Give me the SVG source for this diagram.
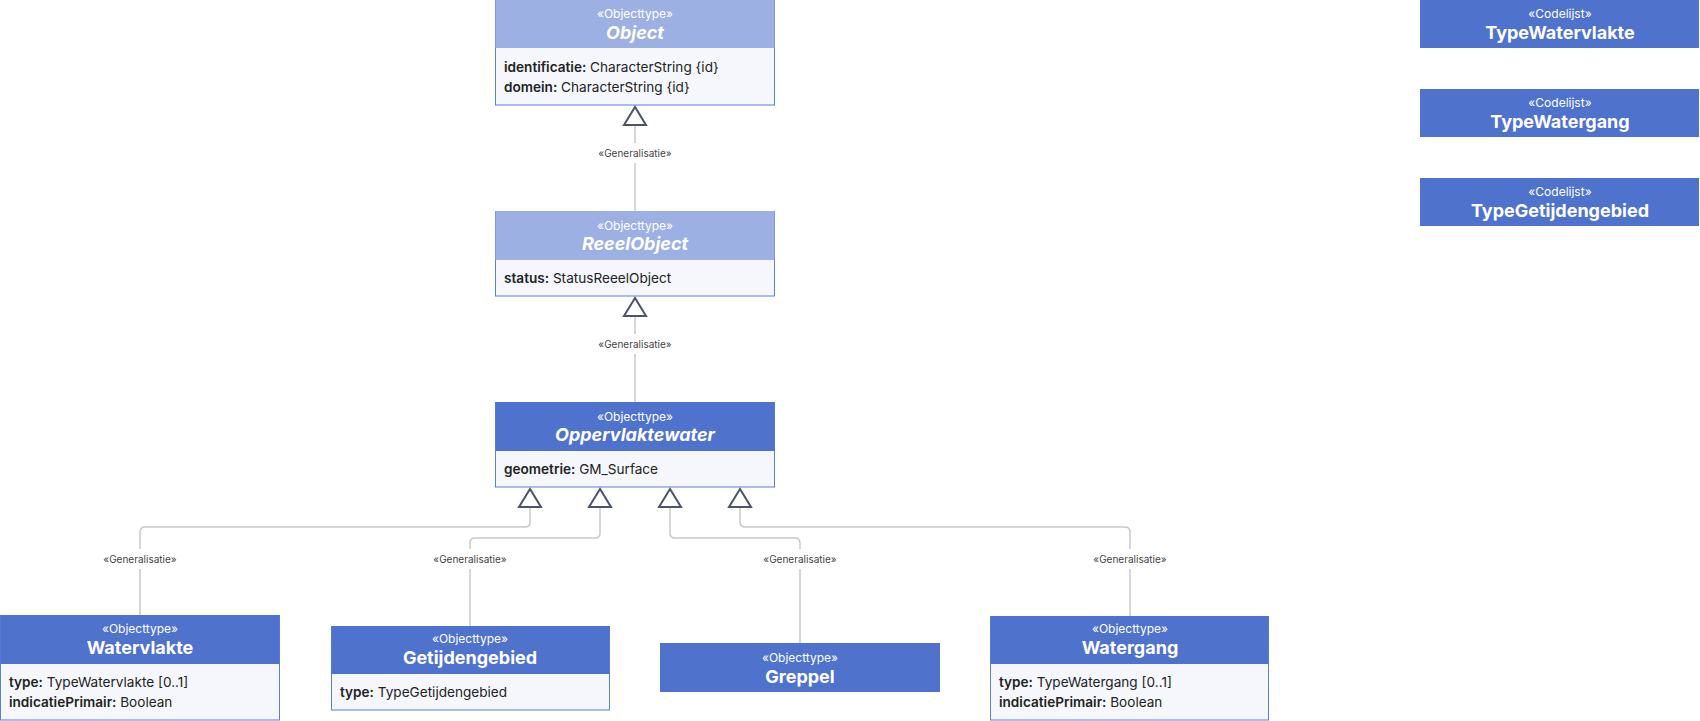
<svg xmlns="http://www.w3.org/2000/svg" width="1700" height="721" viewBox="0 0 1700 721">
<style>
text{font-family:Inter,"Noto Sans","Liberation Sans",sans-serif}
.hdrL{fill:#9db0e3}
.hdrD{fill:#4f72cc}
.body{fill:#f5f7fc;stroke:#5c7fd8;stroke-width:1}
.st{fill:#ffffff;font-size:12px;text-anchor:middle;dominant-baseline:central}
.nm{fill:#ffffff;font-size:18px;font-weight:700;text-anchor:middle;dominant-baseline:central}
.it{font-style:italic}
.at{fill:#222222;font-size:13.6px;dominant-baseline:central}
.at tspan.b{font-weight:600}
.ln{fill:none;stroke:#c9c9c9;stroke-width:1.5}
.tri{fill:#ffffff;stroke:#4a5568;stroke-width:2;stroke-linejoin:miter}
.lbl{fill:#444444;font-size:10px;text-anchor:middle;dominant-baseline:central}
.lblbg{fill:#ffffff}
</style>

<g id="connectors">
  <!-- Object <- ReeelObject -->
  <line class="ln" x1="635" y1="125" x2="635" y2="211"/>
  <rect class="lblbg" x="595" y="143" width="80" height="20"/>
  <text class="lbl" x="635" y="153">«Generalisatie»</text>
  <polygon class="tri" points="635,107 624,125 646,125"/>

  <!-- ReeelObject <- Oppervlaktewater -->
  <line class="ln" x1="635" y1="316" x2="635" y2="402"/>
  <rect class="lblbg" x="595" y="334" width="80" height="20"/>
  <text class="lbl" x="635" y="344">«Generalisatie»</text>
  <polygon class="tri" points="635,298 624,316 646,316"/>

  <!-- Watervlakte -->
  <path class="ln" d="M530,507 V522 Q530,527 525,527 H145 Q140,527 140,532 V615"/>
  <rect class="lblbg" x="100" y="549" width="80" height="20"/>
  <text class="lbl" x="140" y="559">«Generalisatie»</text>
  <polygon class="tri" points="530,489 519,507 541,507"/>

  <!-- Getijdengebied -->
  <path class="ln" d="M600,507 V533 Q600,538 595,538 H475 Q470,538 470,543 V626"/>
  <rect class="lblbg" x="430" y="549" width="80" height="20"/>
  <text class="lbl" x="470" y="559">«Generalisatie»</text>
  <polygon class="tri" points="600,489 589,507 611,507"/>

  <!-- Greppel -->
  <path class="ln" d="M670,507 V533 Q670,538 675,538 H795 Q800,538 800,543 V643"/>
  <rect class="lblbg" x="760" y="549" width="80" height="20"/>
  <text class="lbl" x="800" y="559">«Generalisatie»</text>
  <polygon class="tri" points="670,489 659,507 681,507"/>

  <!-- Watergang -->
  <path class="ln" d="M740,507 V522 Q740,527 745,527 H1125 Q1130,527 1130,532 V616"/>
  <rect class="lblbg" x="1090" y="549" width="80" height="20"/>
  <text class="lbl" x="1130" y="559">«Generalisatie»</text>
  <polygon class="tri" points="740,489 729,507 751,507"/>
</g>

<g id="node-Object">
  <rect class="body" x="495.5" y="0.5" width="279" height="104.5"/>
  <rect class="hdrL" x="495.5" y="0" width="279" height="48"/>
  <text class="st" x="635" y="13">«Objecttype»</text>
  <text class="nm it" x="635" y="32">Object</text>
  <text class="at" x="504" y="67"><tspan class="b">identificatie:</tspan> CharacterString {id}</text>
  <text class="at" x="504" y="87"><tspan class="b">domein:</tspan> CharacterString {id}</text>
</g>

<g id="node-ReeelObject">
  <rect class="body" x="495.5" y="211.5" width="279" height="84.5"/>
  <rect class="hdrL" x="495.5" y="211" width="279" height="49"/>
  <text class="st" x="635" y="225">«Objecttype»</text>
  <text class="nm it" x="635" y="243">ReeelObject</text>
  <text class="at" x="504" y="278"><tspan class="b">status:</tspan> StatusReeelObject</text>
</g>

<g id="node-Oppervlaktewater">
  <rect class="body" x="495.5" y="402.5" width="279" height="84.5"/>
  <rect class="hdrD" x="495.5" y="402" width="279" height="49"/>
  <text class="st" x="635" y="416">«Objecttype»</text>
  <text class="nm it" x="635" y="434">Oppervlaktewater</text>
  <text class="at" x="504" y="469"><tspan class="b">geometrie:</tspan> GM_Surface</text>
</g>

<g id="node-Watervlakte">
  <rect class="body" x="0.5" y="615.5" width="279" height="104.5"/>
  <rect class="hdrD" x="0.5" y="615" width="279" height="49"/>
  <text class="st" x="140" y="628">«Objecttype»</text>
  <text class="nm" x="140" y="647">Watervlakte</text>
  <text class="at" x="9" y="682"><tspan class="b">type:</tspan> TypeWatervlakte [0..1]</text>
  <text class="at" x="9" y="702"><tspan class="b">indicatiePrimair:</tspan> Boolean</text>
</g>

<g id="node-Getijdengebied">
  <rect class="body" x="331.5" y="626.5" width="278" height="83.5"/>
  <rect class="hdrD" x="331.5" y="626" width="278" height="48"/>
  <text class="st" x="470" y="638">«Objecttype»</text>
  <text class="nm" x="470" y="657">Getijdengebied</text>
  <text class="at" x="340" y="692"><tspan class="b">type:</tspan> TypeGetijdengebied</text>
</g>

<g id="node-Greppel">
  <rect class="hdrD" x="660" y="643" width="280" height="49"/>
  <text class="st" x="800" y="657">«Objecttype»</text>
  <text class="nm" x="800" y="676">Greppel</text>
</g>

<g id="node-Watergang">
  <rect class="body" x="990.5" y="616.5" width="278" height="103.5"/>
  <rect class="hdrD" x="990.5" y="616" width="278" height="48"/>
  <text class="st" x="1130" y="628">«Objecttype»</text>
  <text class="nm" x="1130" y="647">Watergang</text>
  <text class="at" x="999" y="682"><tspan class="b">type:</tspan> TypeWatergang [0..1]</text>
  <text class="at" x="999" y="702"><tspan class="b">indicatiePrimair:</tspan> Boolean</text>
</g>

<g id="node-TypeWatervlakte">
  <rect class="hdrD" x="1420" y="0" width="279" height="48"/>
  <text class="st" x="1560" y="13">«Codelijst»</text>
  <text class="nm" x="1560" y="32">TypeWatervlakte</text>
</g>

<g id="node-TypeWatergang">
  <rect class="hdrD" x="1420" y="89" width="279" height="48"/>
  <text class="st" x="1560" y="102">«Codelijst»</text>
  <text class="nm" x="1560" y="121">TypeWatergang</text>
</g>

<g id="node-TypeGetijdengebied">
  <rect class="hdrD" x="1420" y="178" width="279" height="48"/>
  <text class="st" x="1560" y="191">«Codelijst»</text>
  <text class="nm" x="1560" y="210">TypeGetijdengebied</text>
</g>
</svg>
